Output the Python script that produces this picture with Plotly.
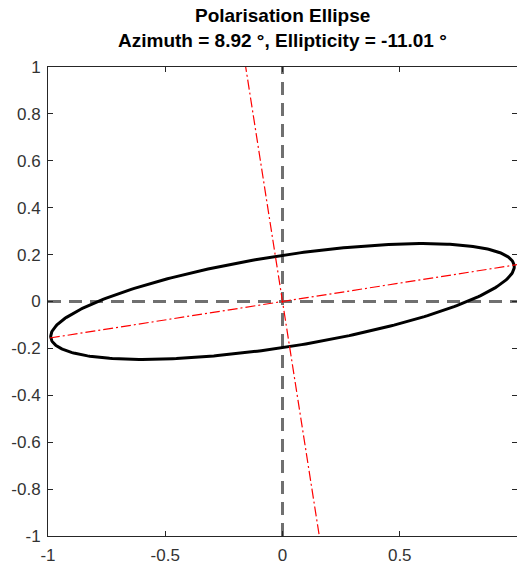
import numpy as np
import plotly.graph_objects as go

# ellipse parameters shown in the title (degrees)
azimuth_deg = 8.92
ellipticity_deg = -11.01

# axis ticks
x_tick_vals = [-1, -0.5, 0, 0.5, 1]
x_tick_text = ["-1", "-0.5", "0", "0.5", "1"]
y_tick_vals = [1, 0.8, 0.6, 0.4, 0.2, 0, -0.2, -0.4, -0.6, -0.8, -1]
y_tick_text = ["1", "0.8", "0.6", "0.4", "0.2", "0", "-0.2", "-0.4", "-0.6", "-0.8", "-1"]

# --- ellipse from azimuth / ellipticity (unit semi-major axis) ---
psi = np.deg2rad(azimuth_deg)
chi = np.deg2rad(ellipticity_deg)
a = 1.0
b = a * abs(np.tan(chi))
t = np.linspace(0, 2 * np.pi, 361)
ex = a * np.cos(t) * np.cos(psi) - b * np.sin(t) * np.sin(psi)
ey = a * np.cos(t) * np.sin(psi) + b * np.sin(t) * np.cos(psi)

# major / minor axis lines (long, clipped by the axes)
L = 3.0
major_x = [-L * np.cos(psi), L * np.cos(psi)]
major_y = [-L * np.sin(psi), L * np.sin(psi)]
minor_x = [L * np.sin(psi), -L * np.sin(psi)]
minor_y = [-L * np.cos(psi), L * np.cos(psi)]

fig = go.Figure()

# dashed cross hairs
fig.add_trace(go.Scatter(x=[-1, 1], y=[0, 0], mode="lines",
                         line=dict(color="#707070", width=3, dash="13px,8px")))
fig.add_trace(go.Scatter(x=[0, 0], y=[-1, 1], mode="lines",
                         line=dict(color="#707070", width=3, dash="13px,8px")))

fig.add_trace(go.Scatter(x=ex, y=ey, mode="lines",
                         line=dict(color="black", width=3)))

for xs, ys in [(major_x, major_y), (minor_x, minor_y)]:
    fig.add_trace(go.Scatter(x=xs, y=ys, mode="lines",
                             line=dict(color="#ff0000", width=1.2, dash="10px,3px,2px,3px")))

axis_common = dict(
    showgrid=False, zeroline=False, automargin=False,
    showline=True, linecolor="#262626", linewidth=1, mirror="ticks",
    ticks="inside", ticklen=5, tickcolor="#262626", tickwidth=1,
    tickfont=dict(family="Liberation Sans, Arial", size=17, color="#333333"),
)

fig.update_xaxes(range=[-1, 1], tickvals=x_tick_vals, ticktext=x_tick_text,
                 ticklabelstandoff=4, **axis_common)
fig.update_yaxes(range=[-1, 1], tickvals=y_tick_vals, ticktext=y_tick_text,
                 ticklabelstandoff=3, **axis_common)

title_font = dict(family="Liberation Sans, Arial", size=19, color="black")
fig.add_annotation(text="<b>Polarisation Ellipse</b>", xref="paper", yref="paper",
                   x=0.5, y=1, yanchor="middle", yshift=52, showarrow=False, font=title_font)
fig.add_annotation(text="<b>Azimuth = 8.92 °, Ellipticity = -11.01 °</b>", xref="paper", yref="paper",
                   x=0.5, y=1, yanchor="middle", yshift=27, showarrow=False, font=title_font)

fig.update_layout(
    width=517, height=566,
    margin=dict(l=48, r=0, t=67, b=30),
    paper_bgcolor="white", plot_bgcolor="white",
    showlegend=False,
)

# drop the default page margin so the figure fills the window exactly
fig.write_html("out.html", config={"displayModeBar": False},
               post_script="document.body.style.margin='0';document.body.style.overflow='hidden';")
